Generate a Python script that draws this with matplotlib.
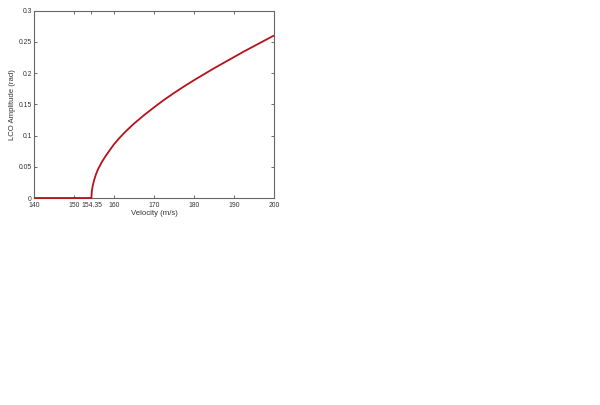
import matplotlib
matplotlib.use("Agg")
import matplotlib.pyplot as plt

# LCO amplitude (zero below the flutter speed)
velocity = [140.0, 154.35, 154.45, 154.7, 155.0, 155.5, 156.0, 157.0, 158.0, 159.0,
            160.0, 161.5, 163.0, 165.0, 167.5, 170.0, 172.5, 175.0, 177.5,
            180.0, 182.5, 185.0, 187.5, 190.0, 192.5, 195.0, 197.5, 200.0]
amplitude = [0.0, 0.0, 0.011, 0.020, 0.028, 0.038, 0.046, 0.058, 0.068, 0.077,
             0.086, 0.097, 0.107, 0.119, 0.1325, 0.145, 0.157, 0.168, 0.1785,
             0.1885, 0.198, 0.2075, 0.2165, 0.2255, 0.2345, 0.243, 0.2515, 0.260]

xticks = [140, 150, 154.35, 160, 170, 180, 190, 200]
xticklabels = ["140", "150", "154.35", "160", "170", "180", "190", "200"]
yticks = [0, 0.05, 0.1, 0.15, 0.2, 0.25, 0.3]
yticklabels = ["0", "0.05", "0.1", "0.15", "0.2", "0.25", "0.3"]

plt.rcParams["font.family"] = ["Liberation Sans", "DejaVu Sans"]

fig = plt.figure(figsize=(6.0, 4.05), dpi=100)
ax = fig.add_axes([34 / 600, 1 - 198 / 405, 240 / 600, 187.5 / 405])

ax.plot(velocity, amplitude, color="#b5121b", linewidth=1.3, solid_capstyle="butt",
        solid_joinstyle="round", clip_on=False, zorder=3)

ax.set_xlim(140, 200)
ax.set_ylim(0, 0.3)
ax.set_xticks(xticks)
ax.set_xticklabels(xticklabels)
ax.set_yticks(yticks)
ax.set_yticklabels(yticklabels)
ax.tick_params(direction="in", length=2.5, width=0.6, labelsize=4.9,
               colors="#555555", labelcolor="#333333", top=True, right=True)
ax.tick_params(axis="x", pad=2.8)
ax.tick_params(axis="y", pad=1.5)
for side in ax.spines.values():
    side.set_color("#666666")
    side.set_linewidth(0.8)

ax.set_xlabel("Velocity (m/s)", fontsize=5.6, color="#333333", labelpad=1)
ax.set_ylabel("LCO Amplitude (rad)", fontsize=5.6, color="#333333", labelpad=2)

fig.savefig("out.png", dpi=100, facecolor="white")
